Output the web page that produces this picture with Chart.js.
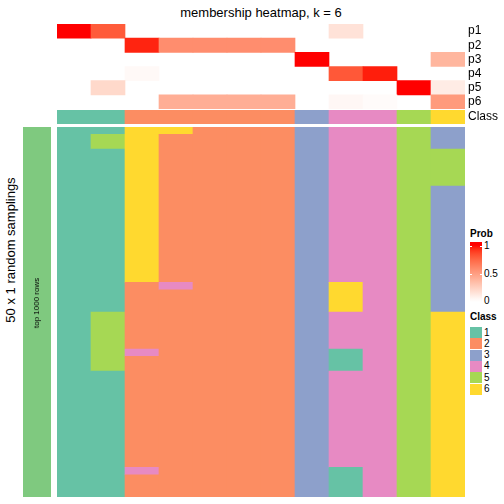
<!DOCTYPE html>
<html>
<head>
<meta charset="utf-8">
<script src="https://cdn.jsdelivr.net/npm/chart.js@4.4.1/dist/chart.umd.min.js"></script>
<style>
    body { margin: 0; width: 504px; height: 504px; position: relative; background: #fff; overflow: hidden;
           font-family: "Liberation Sans", Arial, sans-serif; }
    canvas { position: absolute; }
    .txt { position: absolute; white-space: nowrap; color: #000; line-height: 1; }
    .rot { transform: translate(-50%, -50%) rotate(-90deg); }
    .legTitle { font-weight: bold; font-size: 10px; }
    .legLabel { font-size: 10px; transform: translateY(-50%); }
</style>
</head>
<body>
<div class="txt" style="left:261px;top:12px;font-size:13px;transform:translate(-50%,-50%)">membership heatmap, k = 6</div>
<div class="txt rot" style="left:10px;top:250px;font-size:13px">50 x 1 random samplings</div>

<canvas id="probChart" width="447" height="85" style="left:57px;top:24px"></canvas>
<canvas id="classChart" width="447" height="14" style="left:57px;top:110px"></canvas>
<canvas id="annoChart" width="28" height="370" style="left:23px;top:127px"></canvas>
<canvas id="gridChart" width="408" height="370" style="left:57px;top:127px"></canvas>
<div class="txt rot" style="left:37px;top:303px;font-size:8px">top 1000 rows</div>

<div id="legend"></div>

<script>
// ============================================================
// DADOS
// ============================================================

const columnLabels = ['c1','c2','c3','c4','c5','c6','c7','c8','c9','c10','c11','c12'];
const probRowLabels = ['p1','p2','p3','p4','p5','p6'];

const probP1 = [1.00, 0.80, 0,    0,    0,    0,    0,    0,    0.15, 0,    0,    0];
const probP2 = [0,    0,    0.96, 0.58, 0.58, 0.58, 0.58, 0,    0,    0,    0,    0];
const probP3 = [0,    0,    0,    0,    0,    0,    0,    1.00, 0,    0,    0,    0.38];
const probP4 = [0,    0,    0.03, 0,    0,    0,    0,    0,    0.81, 0.97, 0,    0];
const probP5 = [0,    0.20, 0,    0,    0,    0,    0,    0,    0,    0,    1.00, 0.10];
const probP6 = [0,    0,    0,    0.42, 0.42, 0.42, 0.42, 0,    0.04, 0.02, 0,    0.52];

const classRow = [1, 1, 2, 2, 2, 2, 2, 3, 4, 4, 5, 6];

// 50 samplings x 12 columns, one digit = class
const samplingRows = [
    '116622234453',
    '156222234453',
    '156222234453',
    '116222234455',
    '116222234455',
    '116222234455',
    '116222234455',
    '116222234455',
    '116222234453',
    '116222234453',
    '116222234453',
    '116222234453',
    '116222234453',
    '116222234453',
    '116222234453',
    '116222234453',
    '116222234453',
    '116222234453',
    '116222234453',
    '116222234453',
    '116222234453',
    '112422236453',
    '112222236453',
    '112222236453',
    '112222236453',
    '152222234456',
    '152222234456',
    '152222234456',
    '152222234456',
    '152222234456',
    '154222231456',
    '152222231456',
    '152222231456',
    '112222234456',
    '112222234456',
    '112222234456',
    '112222234456',
    '112222234456',
    '112222234456',
    '112222234456',
    '112222234456',
    '112222234456',
    '112222234456',
    '112222234456',
    '112222234456',
    '112222234456',
    '114222231456',
    '112222231456',
    '112222231456',
    '112222231456'
];

const classLabels = ['1', '2', '3', '4', '5', '6'];
const classColors = ['#66C2A5', '#FC8D62', '#8DA0CB', '#E78AC3', '#A6D854', '#FFD92F'];
const annoColor = '#7FC97F';
const probTicks = [1, 0.5, 0];

Chart.defaults.font.family = "'Liberation Sans', Arial, sans-serif";
Chart.defaults.color = '#000';

// ============================================================
// COR (branco -> vermelho em LAB)
// ============================================================

function toLin(c) { c /= 255; return c <= 0.04045 ? c / 12.92 : Math.pow((c + 0.055) / 1.055, 2.4); }
function toSrgb(c) {
    c = Math.max(0, Math.min(1, c));
    return Math.round(255 * (c <= 0.0031308 ? 12.92 * c : 1.055 * Math.pow(c, 1 / 2.4) - 0.055));
}
function rgbToLab(rgb) {
    const R = toLin(rgb[0]), G = toLin(rgb[1]), B = toLin(rgb[2]);
    const X = (0.4124 * R + 0.3576 * G + 0.1805 * B) / 0.95047;
    const Y = 0.2126 * R + 0.7152 * G + 0.0722 * B;
    const Z = (0.0193 * R + 0.1192 * G + 0.9505 * B) / 1.08883;
    const f = t => t > 0.008856 ? Math.cbrt(t) : 7.787 * t + 16 / 116;
    return [116 * f(Y) - 16, 500 * (f(X) - f(Y)), 200 * (f(Y) - f(Z))];
}
function labToRgb(lab) {
    const fy = (lab[0] + 16) / 116, fx = fy + lab[1] / 500, fz = fy - lab[2] / 200;
    const inv = t => t * t * t > 0.008856 ? t * t * t : (t - 16 / 116) / 7.787;
    const X = inv(fx) * 0.95047, Y = inv(fy), Z = inv(fz) * 1.08883;
    return [
        toSrgb(3.2406 * X - 1.5372 * Y - 0.4986 * Z),
        toSrgb(-0.9689 * X + 1.8758 * Y + 0.0415 * Z),
        toSrgb(0.0557 * X - 0.2040 * Y + 1.0570 * Z)
    ];
}
const labWhite = rgbToLab([255, 255, 255]);
const labRed = rgbToLab([255, 0, 0]);
function probColor(v) {
    const lab = labWhite.map((w, i) => w + (labRed[i] - w) * v);
    const c = labToRgb(lab);
    return `rgb(${c[0]},${c[1]},${c[2]})`;
}

// ============================================================
// GRÁFICOS
// ============================================================

const baseOptions = {
    responsive: false,
    animation: false,
    events: [],
    layout: { padding: 0 },
    plugins: { legend: { display: false }, tooltip: { enabled: false } }
};

function rowAxis() {
    return {
        type: 'category',
        position: 'right',
        grid: { display: false, drawTicks: false },
        border: { display: false },
        ticks: { color: '#000', font: { size: 12 }, padding: 3, autoSkip: false },
        afterFit: s => {
            s.width = 39;
            s.paddingTop = 0;
            s.paddingBottom = 0;
        }
    };
}

// heatmap de probabilidades
const probSeries = [probP1, probP2, probP3, probP4, probP5, probP6];
const probCells = [];
probSeries.forEach((serie, r) => {
    serie.forEach((v, c) => {
        if (v > 0) probCells.push({ x: [c, c + 1], y: probRowLabels[r], v: v });
    });
});

new Chart(document.getElementById('probChart'), {
    type: 'bar',
    data: {
        labels: probRowLabels,
        datasets: [{
            data: probCells,
            backgroundColor: ctx => probColor(ctx.raw.v),
            borderWidth: 0,
            barPercentage: 1,
            categoryPercentage: 1
        }]
    },
    options: {
        ...baseOptions,
        indexAxis: 'y',
        scales: {
            x: { type: 'linear', min: 0, max: columnLabels.length, display: false },
            y: rowAxis()
        }
    }
});

// linha Class
const classCells = classRow.map((k, c) => ({ x: [c, c + 1], y: 'Class', k: k }));

new Chart(document.getElementById('classChart'), {
    type: 'bar',
    data: {
        labels: ['Class'],
        datasets: [{
            data: classCells,
            backgroundColor: ctx => classColors[ctx.raw.k - 1],
            borderWidth: 0,
            barPercentage: 1,
            categoryPercentage: 1
        }]
    },
    options: {
        ...baseOptions,
        indexAxis: 'y',
        scales: {
            x: { type: 'linear', min: 0, max: columnLabels.length, display: false },
            y: rowAxis()
        }
    }
});

// anotação à esquerda
new Chart(document.getElementById('annoChart'), {
    type: 'bar',
    data: {
        labels: ['top 1000 rows'],
        datasets: [{
            data: [[0, samplingRows.length]],
            backgroundColor: annoColor,
            borderWidth: 0,
            barPercentage: 1,
            categoryPercentage: 1
        }]
    },
    options: {
        ...baseOptions,
        scales: {
            x: { display: false },
            y: { type: 'linear', min: 0, max: samplingRows.length, display: false }
        }
    }
});

// grade principal: blocos contíguos por coluna
const gridBlocks = [];
columnLabels.forEach((lab, c) => {
    let start = 0;
    for (let r = 1; r <= samplingRows.length; r++) {
        const atual = samplingRows[start][c];
        if (r === samplingRows.length || samplingRows[r][c] !== atual) {
            gridBlocks.push({ x: lab, y: [start, r], k: parseInt(atual) });
            start = r;
        }
    }
});

new Chart(document.getElementById('gridChart'), {
    type: 'bar',
    data: {
        labels: columnLabels,
        datasets: [{
            data: gridBlocks,
            backgroundColor: ctx => classColors[ctx.raw.k - 1],
            borderWidth: 0,
            barPercentage: 1,
            categoryPercentage: 1
        }]
    },
    options: {
        ...baseOptions,
        scales: {
            x: { type: 'category', display: false },
            y: { type: 'linear', min: 0, max: samplingRows.length, reverse: true, display: false }
        }
    }
});

// ============================================================
// LEGENDAS
// ============================================================

function addDiv(html, style, cls) {
    const d = document.createElement('div');
    d.className = cls || 'txt';
    d.innerHTML = html;
    d.style.cssText = style;
    document.getElementById('legend').appendChild(d);
    return d;
}

// Prob
const gradTop = 242, gradH = 60, yOne = 246, yZero = 301;
addDiv('Prob', 'left:470px;top:229px', 'txt legTitle');
const stops = [];
for (let i = 0; i <= 20; i++) {
    const y = gradTop + gradH * i / 20;
    const v = Math.max(0, Math.min(1, (yZero - y) / (yZero - yOne)));
    stops.push(`${probColor(v)} ${(i * 5)}%`);
}
addDiv('', `position:absolute;left:470px;top:${gradTop}px;width:12px;height:${gradH}px;background:linear-gradient(to bottom, ${stops.join(',')})`, '');
probTicks.forEach(t => {
    const y = yZero - (yZero - yOne) * t;
    addDiv(String(t), `left:484px;top:${y}px`, 'txt legLabel');
    if (t > 0) {
        addDiv('', `position:absolute;left:470px;top:${Math.round(y)}px;width:2px;height:1px;background:#fff`, '');
        addDiv('', `position:absolute;left:480px;top:${Math.round(y)}px;width:2px;height:1px;background:#fff`, '');
    }
});

// Class
addDiv('Class', 'left:470px;top:312px', 'txt legTitle');
classLabels.forEach((lab, i) => {
    const top = 327 + i * 11.33;
    addDiv('', `position:absolute;left:470px;top:${top}px;width:12px;height:11px;background:${classColors[i]}`, '');
    addDiv(lab, `left:484px;top:${top + 5.5}px`, 'txt legLabel');
});
</script>
</body>
</html>
